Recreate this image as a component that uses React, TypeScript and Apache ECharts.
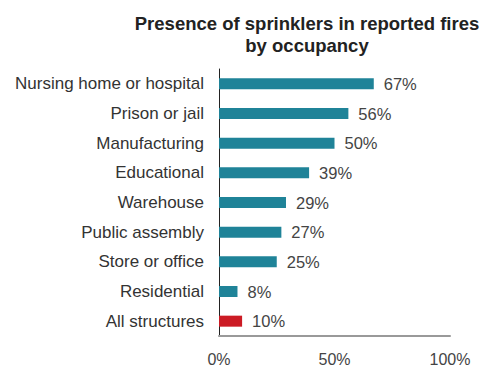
import React, { useEffect, useRef } from "react";
import * as echarts from "echarts";

const categories = [
  "Nursing home or hospital",
  "Prison or jail",
  "Manufacturing",
  "Educational",
  "Warehouse",
  "Public assembly",
  "Store or office",
  "Residential",
  "All structures",
];
const values = [67, 56, 50, 39, 29, 27, 25, 8, 10];
const barColors = [
  "#1f8398", "#1f8398", "#1f8398", "#1f8398", "#1f8398",
  "#1f8398", "#1f8398", "#1f8398", "#cc1b24",
];
const titleText = "Presence of sprinklers in reported fires\nby occupancy";

export default function App() {
  const ref = useRef<HTMLDivElement>(null);
  useEffect(() => {
    if (!ref.current) return;
    const chart = echarts.init(ref.current, null, { renderer: "svg" });
    chart.setOption({
      animation: false,
      backgroundColor: "#ffffff",
      textStyle: { fontFamily: "Liberation Sans, Arial, sans-serif" },
      title: {
        text: titleText,
        left: 302,
        top: 7,
        textAlign: "center",
        textStyle: {
          fontSize: 18.5,
          fontWeight: "bold",
          color: "#222",
          lineHeight: 22,
          fontFamily: "Liberation Sans, Arial, sans-serif",
        },
      },
      grid: { left: 219, right: 31, top: 69, bottom: 25, containLabel: false },
      xAxis: {
        type: "value",
        min: 0,
        max: 100,
        interval: 50,
        axisLine: { show: true, lineStyle: { color: "#999", width: 2 } },
        axisTick: { show: false },
        splitLine: { show: false },
        axisLabel: {
          formatter: "{value}%",
          fontSize: 16,
          color: "#444",
          margin: 15,
        },
      },
      yAxis: {
        type: "category",
        data: categories,
        inverse: true,
        axisLine: { show: true, lineStyle: { color: "#222", width: 1 } },
        axisTick: { show: false },
        axisLabel: { fontSize: 17, color: "#333", margin: 15 },
      },
      series: [
        {
          type: "bar",
          barWidth: 11,
          data: values.map((v, i) => ({ value: v, itemStyle: { color: barColors[i] } })),
          label: {
            show: true,
            position: "right",
            distance: 10,
            formatter: "{c}%",
            fontSize: 16.5,
            color: "#444",
          },
        },
      ],
    });
    return () => chart.dispose();
  }, []);
  return (
    <div
      ref={ref}
      style={{ position: "fixed", left: 0, top: 0, width: 481, height: 367 }}
    />
  );
}
